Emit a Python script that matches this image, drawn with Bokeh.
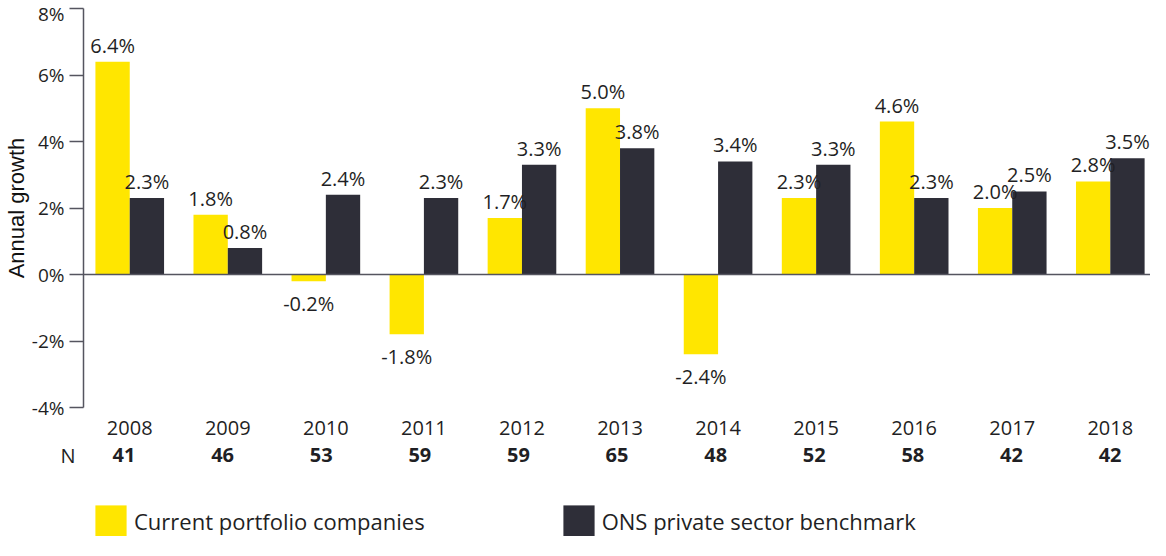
from bokeh.plotting import figure
from bokeh.models import (Range1d, FixedTicker, Span, LabelSet, ColumnDataSource,
                          Legend, LegendItem, PrintfTickFormatter)
from bokeh.layouts import column
from bokeh.core.properties import value
from bokeh.embed import file_html
from bokeh.resources import INLINE

years = ["2008", "2009", "2010", "2011", "2012", "2013", "2014", "2015", "2016", "2017", "2018"]
portfolio = [6.4, 1.8, -0.2, -1.8, 1.7, 5.0, -2.4, 2.3, 4.6, 2.0, 2.8]
ons = [2.3, 0.8, 2.4, 2.3, 3.3, 3.8, 3.4, 3.3, 2.3, 2.5, 3.5]
n_counts = ["41", "46", "53", "59", "59", "65", "48", "52", "58", "42", "42"]
y_ticks = [-4, -2, 0, 2, 4, 6, 8]
series_names = ["Current portfolio companies", "ONS private sector benchmark"]

YELLOW = "#FFE600"
DARK = "#2E2E38"
TXT = "#1f1f24"
AXC = "#55555f"
FONT = "Open Sans"
BAR_W = 0.35
X0, X1 = -0.4716, 10.41          # main frame x-range (category units)
X0_FULL = -1.2525                # left edge of the whole canvas in the same units

idx = list(range(len(years)))

# ---------------- main chart ----------------
p = figure(width=1150, height=440, output_backend="svg", toolbar_location=None,
           x_range=Range1d(X0, X1), y_range=Range1d(-4, 8),
           min_border_left=77, min_border_right=0, min_border_top=8, min_border_bottom=33)
p.frame_align = False
p.outline_line_color = None
p.xgrid.visible = False
p.ygrid.visible = False

ya = p.yaxis[0]
ya.ticker = FixedTicker(ticks=y_ticks)
ya.formatter = PrintfTickFormatter(format="%d%%")
ya.axis_line_color = AXC
ya.axis_line_width = 1.5
ya.major_tick_line_color = AXC
ya.major_tick_line_width = 1.5
ya.major_tick_out = 14
ya.major_tick_in = 0
ya.minor_tick_line_color = None
ya.major_label_standoff = 5
ya.major_label_text_font = FONT
ya.major_label_text_font_size = "19px"
ya.major_label_text_color = TXT
ya.axis_label = "Annual growth"
ya.axis_label_text_font = "Liberation Sans"
ya.axis_label_text_font_style = "normal"
ya.axis_label_text_font_size = "22px"
ya.axis_label_text_color = "#111111"
ya.axis_label_standoff = 0

xa = p.xaxis[0]
xa.ticker = FixedTicker(ticks=idx)
xa.major_label_overrides = {i: y for i, y in zip(idx, years)}
xa.axis_line_color = None
xa.major_tick_line_color = None
xa.minor_tick_line_color = None
xa.major_label_standoff = 7
xa.major_label_text_font = FONT
xa.major_label_text_font_size = "20px"
xa.major_label_text_color = TXT

src_y = ColumnDataSource(dict(x=[i - BAR_W / 2 for i in idx], top=portfolio))
src_d = ColumnDataSource(dict(x=[i + BAR_W / 2 for i in idx], top=ons))
p.vbar(x="x", top="top", bottom=0, width=BAR_W, source=src_y, fill_color=YELLOW, line_color=None)
p.vbar(x="x", top="top", bottom=0, width=BAR_W, source=src_d, fill_color=DARK, line_color=None)

p.add_layout(Span(location=0, dimension="width", line_color=AXC, line_width=1.5))

for xs, vals in (([i - BAR_W / 2 for i in idx], portfolio), ([i + BAR_W / 2 for i in idx], ons)):
    pos = [(x, v) for x, v in zip(xs, vals) if v >= 0]
    neg = [(x, v) for x, v in zip(xs, vals) if v < 0]
    if pos:
        s = ColumnDataSource(dict(x=[a for a, _ in pos], y=[b for _, b in pos],
                                  t=[f"{b:.1f}%" for _, b in pos]))
        p.add_layout(LabelSet(x="x", y="y", text="t", source=s, text_align="center",
                              text_baseline="bottom", y_offset=3,
                              text_font=value(FONT), text_font_size="20px", text_color=TXT))
    if neg:
        s = ColumnDataSource(dict(x=[a for a, _ in neg], y=[b for _, b in neg],
                                  t=[f"{b:.1f}%" for _, b in neg]))
        p.add_layout(LabelSet(x="x", y="y", text="t", source=s, text_align="center",
                              text_baseline="top", y_offset=-9,
                              text_font=value(FONT), text_font_size="20px", text_color=TXT))

# ---------------- N row + legend ----------------
p2 = figure(width=1150, height=96, output_backend="svg", toolbar_location=None,
            x_range=Range1d(X0_FULL, X1), y_range=Range1d(96, 0),
            x_axis_type=None, y_axis_type=None,
            min_border_left=0, min_border_right=0, min_border_top=0, min_border_bottom=0)
p2.frame_align = False
p2.outline_line_color = None
p2.xgrid.visible = False
p2.ygrid.visible = False

p2.text(x=idx, y=[14.5] * len(idx), text=n_counts, text_align="center", text_baseline="middle",
        text_font=value(FONT), text_font_size="20px", text_font_style="bold", text_color=TXT)
p2.text(x=[-0.568], y=[14.5], text=["N"], text_align="center", text_baseline="middle",
        text_font=value(FONT), text_font_size="20px", text_color=TXT)

dummy = ColumnDataSource(dict(x=[float("nan")], top=[float("nan")]))
l1 = p2.vbar(x="x", top="top", width=0.1, source=dummy, fill_color=YELLOW, line_color=None)
l2 = p2.vbar(x="x", top="top", width=0.1, source=dummy, fill_color=DARK, line_color=None)

legend = Legend(items=[LegendItem(label=series_names[0], renderers=[l1]),
                       LegendItem(label=series_names[1], renderers=[l2])],
                orientation="horizontal", location=(91, -4),
                glyph_width=39, glyph_height=39, label_standoff=4, spacing=134,
                padding=0, margin=0, border_line_alpha=0, background_fill_alpha=0,
                label_text_font=FONT, label_text_font_size="22px", label_text_color=TXT)
p2.add_layout(legend, "center")

layout = column(p, p2, spacing=0)
open("out.html", "w").write(file_html(layout, INLINE))
